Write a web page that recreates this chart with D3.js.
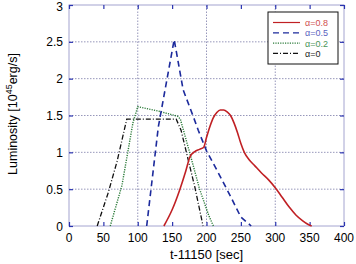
<!DOCTYPE html>
<html>
<head>
<meta charset="utf-8">
<script src="https://cdn.jsdelivr.net/npm/d3@7"></script>
<style>
body { margin: 0; background: #fff; }
svg { font-family: 'Liberation Sans', Arial, sans-serif; }
</style>
</head>
<body>
<svg width="356" height="264"></svg>
<script>
var xTicks = [0, 50, 100, 150, 200, 250, 300, 350, 400]
var yTicks = [0, 0.5, 1, 1.5, 2, 2.5, 3]
var labels = ['\u03b1=0.8', '\u03b1=0.5', '\u03b1=0.2', '\u03b1=0']

// alpha = 0.8 (red, solid)
var redT = [138, 150, 161, 170, 176, 183, 190, 196, 200, 205, 210, 215, 220, 225, 230, 235, 240, 245, 250, 255, 262, 270, 280, 290, 300, 310, 320, 330, 340, 348, 353]
var redL = [0, 0.22, 0.49, 0.75, 0.94, 1.01, 1.04, 1.07, 1.2, 1.35, 1.47, 1.54, 1.575, 1.575, 1.55, 1.5, 1.4, 1.27, 1.12, 1.0, 0.9, 0.82, 0.72, 0.63, 0.52, 0.39, 0.26, 0.15, 0.07, 0.02, 0]
// alpha = 0.5 (blue, dashed)
var blueT = [113, 130, 153, 166, 181, 188, 200, 215, 234, 250, 265]
var blueL = [0, 1.35, 2.53, 1.85, 1.48, 1.3, 1.02, 0.76, 0.42, 0.12, 0]
// alpha = 0.2 (green, dotted)
var greenT = [60, 77, 93, 100, 130, 158, 162, 176, 190, 203, 210]
var greenL = [0, 0.55, 1.4, 1.62, 1.56, 1.49, 1.45, 0.98, 0.5, 0.15, 0]
// alpha = 0 (black, dash-dot)
var blackT = [41, 57, 70, 84, 156, 163, 171, 183, 195]
var blackL = [0, 0.45, 0.88, 1.45, 1.45, 1.3, 0.99, 0.53, 0]

var svg = d3.select('svg')
var x = d3.scaleLinear().domain([0, 400]).range([69, 344])
var y = d3.scaleLinear().domain([0, 3]).range([226, 5])

function zip(a, b) { return a.map(function (d, i) { return [d, b[i]] }) }

// grid
svg.append('g').selectAll('line').data([100, 200, 300]).enter().append('line')
    .attr('x1', d => x(d)).attr('x2', d => x(d)).attr('y1', y(0)).attr('y2', y(3))
    .attr('stroke', '#7c7ca8').attr('stroke-width', 0.8).attr('stroke-dasharray', '1.5,1.5')
svg.append('g').selectAll('line').data([0.5, 1, 1.5, 2, 2.5]).enter().append('line')
    .attr('x1', x(0)).attr('x2', x(400)).attr('y1', d => y(d)).attr('y2', d => y(d))
    .attr('stroke', '#7c7ca8').attr('stroke-width', 0.8).attr('stroke-dasharray', '1.5,1.5')

// frame
svg.append('rect').attr('x', x(0)).attr('y', y(3)).attr('width', x(400) - x(0)).attr('height', y(0) - y(3))
    .attr('fill', 'none').attr('stroke', '#a4a4d0').attr('stroke-width', 1)

// inward ticks
var xb = svg.append('g').attr('transform', 'translate(0,' + y(0) + ')')
    .call(d3.axisTop(x).tickValues(xTicks).tickSize(4).tickFormat(''))
var xt = svg.append('g').attr('transform', 'translate(0,' + y(3) + ')')
    .call(d3.axisBottom(x).tickValues(xTicks).tickSize(4).tickFormat(''))
var yl = svg.append('g').attr('transform', 'translate(' + x(0) + ',0)')
    .call(d3.axisRight(y).tickValues(yTicks).tickSize(4).tickFormat(''))
var yr = svg.append('g').attr('transform', 'translate(' + x(400) + ',0)')
    .call(d3.axisLeft(y).tickValues(yTicks).tickSize(4).tickFormat(''))
;[xb, xt, yl, yr].forEach(function (g) {
    g.select('.domain').remove()
    g.selectAll('line').attr('stroke', '#2a34b0').attr('stroke-width', 1.2)
})

// tick labels
svg.append('g').selectAll('text').data(xTicks).enter().append('text')
    .attr('x', d => x(d)).attr('y', 242).attr('text-anchor', 'middle')
    .attr('font-size', 12).text(d => d)
svg.append('g').selectAll('text').data(yTicks).enter().append('text')
    .attr('x', 63).attr('y', d => Math.max(y(d) + 4.5, 11)).attr('text-anchor', 'end')
    .attr('font-size', 12).text(d => d)

// axis titles
svg.append('text').attr('x', (x(0) + x(400)) / 2).attr('y', 259).attr('text-anchor', 'middle')
    .attr('font-size', 13).text('t-11150 [sec]')
var yt = svg.append('text').attr('transform', 'translate(17,' + 114 + ') rotate(-90)')
    .attr('text-anchor', 'middle').attr('font-size', 12.5)
yt.append('tspan').text('Luminosity [10')
yt.append('tspan').attr('font-size', 9).attr('dy', -5).text('45')
yt.append('tspan').attr('dy', 5).text('erg/s]')

// curves
var line = d3.line().x(d => x(d[0])).y(d => y(d[1]))
var smooth = d3.line().x(d => x(d[0])).y(d => y(d[1])).curve(d3.curveMonotoneX)
var series = [
    { pts: zip(blackT, blackL), color: '#111', dash: '5,2,1,2', w: 1.3, gen: line },
    { pts: zip(greenT, greenL), color: '#2a7a38', dash: '1.2,1.2', w: 1.4, gen: line },
    { pts: zip(blueT, blueL), color: '#1c2a9c', dash: '6,4', w: 1.6, gen: line },
    { pts: zip(redT, redL), color: '#c02024', dash: null, w: 1.6, gen: smooth }
]
series.forEach(function (s) {
    svg.append('path').attr('d', s.gen(s.pts)).attr('fill', 'none')
        .attr('stroke', s.color).attr('stroke-width', s.w)
        .attr('stroke-dasharray', s.dash)
})

// legend
var leg = svg.append('g')
leg.append('rect').attr('x', 268).attr('y', 12).attr('width', 70).attr('height', 52)
    .attr('fill', '#fff').attr('stroke', '#111').attr('stroke-width', 1)
var legStyle = [
    { color: '#c02024', text: '#d05050', dash: null },
    { color: '#1c2a9c', text: '#5a62c0', dash: '6,4' },
    { color: '#2a7a38', text: '#4a9458', dash: '1.2,1.2' },
    { color: '#111', text: '#222', dash: '5,2,1,2' }
]
labels.forEach(function (l, i) {
    var yy = 22.5 + i * 10.3
    leg.append('line').attr('x1', 273).attr('x2', 300).attr('y1', yy).attr('y2', yy)
        .attr('stroke', legStyle[i].color).attr('stroke-width', 1.2)
        .attr('stroke-dasharray', legStyle[i].dash)
    leg.append('text').attr('x', 305).attr('y', yy + 3.5).attr('font-size', 9)
        .attr('fill', legStyle[i].text).text(l)
})
</script>
</body>
</html>
